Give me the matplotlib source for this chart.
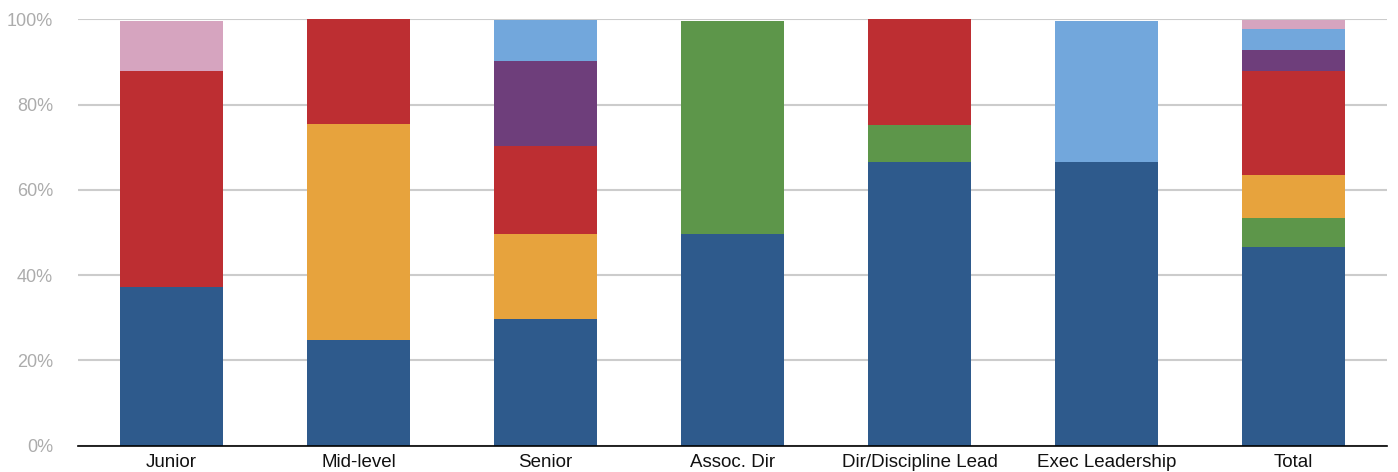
import matplotlib
matplotlib.use("Agg")
import matplotlib.pyplot as plt
import numpy as np

categories = ["Junior", "Mid-level", "Senior", "Assoc. Dir",
              "Dir/Discipline Lead", "Exec Leadership", "Total"]

# Share (%) of each group within a level, bottom to top
series_a = [37.2, 24.8, 29.7, 49.6, 66.5, 66.5, 46.7]   # dark blue
series_b = [0.0, 0.0, 0.0, 50.0, 8.7, 0.0, 6.7]         # green
series_c = [0.0, 50.6, 19.9, 0.0, 0.0, 0.0, 10.1]       # orange
series_d = [50.7, 24.6, 20.7, 0.0, 24.8, 0.0, 24.3]     # red
series_e = [0.0, 0.0, 19.9, 0.0, 0.0, 0.0, 5.0]         # purple
series_f = [0.0, 0.0, 9.7, 0.0, 0.0, 33.1, 4.9]         # light blue
series_g = [11.7, 0.0, 0.0, 0.0, 0.0, 0.0, 2.2]         # pink

y_ticks = [0, 20, 40, 60, 80, 100]
y_tick_labels = ["0%", "20%", "40%", "60%", "80%", "100%"]

series = [series_a, series_b, series_c, series_d, series_e, series_f, series_g]
colors = ["#2E5A8C", "#5D964A", "#E7A33D", "#BD2E32",
          "#6E3E7B", "#72A7DC", "#D6A4BF"]

plt.rcParams["font.family"] = ["Liberation Sans", "DejaVu Sans"]

fig = plt.figure(figsize=(13.98, 4.72), dpi=100)
ax = fig.add_axes([0.0558, 0.0557, 0.9364, 0.9034])

x = np.arange(len(categories))
bottom = np.zeros(len(categories))
for vals, col in zip(series, colors):
    vals = np.array(vals)
    ax.bar(x, vals, width=0.55, bottom=bottom, color=col, zorder=3, linewidth=0)
    bottom += vals

ax.set_xlim(-0.5, len(categories) - 0.5)
ax.set_ylim(0, 100)
ax.set_yticks(y_ticks)
ax.set_yticklabels(y_tick_labels, color="#acacac", fontsize=13)
ax.set_xticks(x)
ax.set_xticklabels(categories, color="#111111", fontsize=13.5)
ax.tick_params(axis="both", length=0)
ax.tick_params(axis="y", pad=18)
ax.tick_params(axis="x", pad=6)

ax.grid(axis="y", color="#cccccc", linewidth=1.5, zorder=0)
ax.set_axisbelow(True)
for side in ["top", "right", "left"]:
    ax.spines[side].set_visible(False)
ax.spines["bottom"].set_color("#000000")
ax.spines["bottom"].set_linewidth(1.2)
ax.spines["bottom"].set_zorder(4)

fig.savefig("out.png", dpi=100)
